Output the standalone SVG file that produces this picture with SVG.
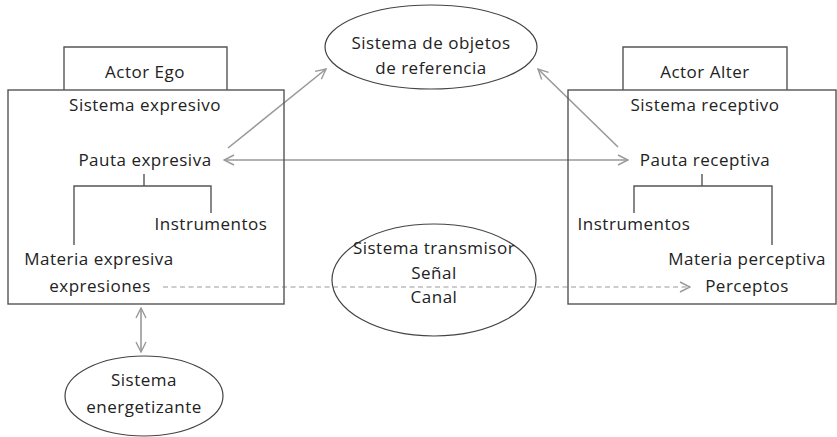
<svg xmlns="http://www.w3.org/2000/svg" width="837" height="437" viewBox="0 0 837 437">
<defs>
<style>
text{font-family:"Open Sans",Lato,sans-serif;font-size:17px;letter-spacing:0.5px;fill:#222;text-anchor:middle}
.box{fill:none;stroke:#555;stroke-width:1.4}
.tree{fill:none;stroke:#555;stroke-width:1.4}
.ell{fill:#fff;stroke:#444;stroke-width:1.2}
.arr{fill:none;stroke:#999;stroke-width:1.6}
.dash{fill:none;stroke:#999;stroke-width:1.2;stroke-dasharray:5 3.5}
</style>
<marker id="ah" viewBox="0 0 12 12" refX="11" refY="6" markerWidth="12" markerHeight="12" markerUnits="userSpaceOnUse" orient="auto-start-reverse">
<path d="M1,1 L11,6 L1,11" fill="none" stroke="#999" stroke-width="1.4"/>
</marker>
</defs>
<rect width="837" height="437" fill="#fff"/>
<g id="connectors">
<line class="arr" x1="228" y1="148" x2="326" y2="69" marker-end="url(#ah)"/>
<line class="arr" x1="618" y1="147" x2="538" y2="69" marker-end="url(#ah)"/>
<line class="arr" x1="224" y1="160" x2="628" y2="160" marker-start="url(#ah)" marker-end="url(#ah)"/>
<line class="dash" x1="163" y1="287" x2="690" y2="287" marker-end="url(#ah)"/>
<line class="arr" x1="141" y1="308" x2="141" y2="352" marker-start="url(#ah)" marker-end="url(#ah)"/>
</g>
<g id="actor-ego">
<path class="box" d="M64,90 V47 H227 V90"/>
<text x="145" y="78">Actor Ego</text>
</g>
<g id="sistema-expresivo">
<rect class="box" x="8" y="90" width="276" height="214"/>
<text x="145" y="111">Sistema expresivo</text>
<text x="145" y="166">Pauta expresiva</text>
<path class="tree" d="M144,174 V186 M74,245 V186 H211 V213"/>
<text x="211" y="230">Instrumentos</text>
<text x="99" y="265">Materia expresiva</text>
<text x="100" y="292">expresiones</text>
</g>
<g id="actor-alter">
<path class="box" d="M623,90 V47 H787 V90"/>
<text x="705" y="78">Actor Alter</text>
</g>
<g id="sistema-receptivo">
<rect class="box" x="568" y="90" width="268" height="214"/>
<text x="705" y="111">Sistema receptivo</text>
<text x="705" y="166">Pauta receptiva</text>
<path class="tree" d="M702,174 V186 M634,213 V186 H772 V245"/>
<text x="634" y="230">Instrumentos</text>
<text x="747" y="265">Materia perceptiva</text>
<text x="747" y="292">Perceptos</text>
</g>
<g id="objetos">
<ellipse class="ell" cx="431" cy="47" rx="106" ry="42"/>
<text x="431" y="49">Sistema de objetos</text>
<text x="431" y="74">de referencia</text>
</g>
<g id="transmisor">
<ellipse class="ell" cx="434" cy="280" rx="102" ry="56" fill-opacity="0"/>
<text x="434" y="254">Sistema transmisor</text>
<text x="434" y="279">Señal</text>
<text x="434" y="303">Canal</text>
</g>
<g id="energetizante">
<ellipse class="ell" cx="144" cy="396" rx="79" ry="40"/>
<text x="144" y="386">Sistema</text>
<text x="144" y="413">energetizante</text>
</g>
</svg>
